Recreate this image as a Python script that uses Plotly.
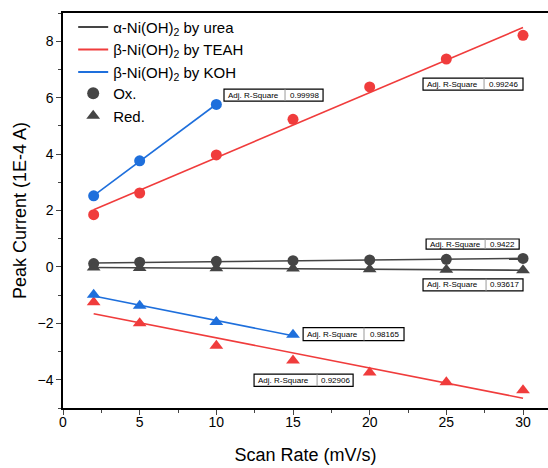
import numpy as np
import plotly.graph_objects as go

# ---- data ----
x_urea = [2, 5, 10, 15, 20, 25, 30]
ox_urea = [0.12, 0.17, 0.20, 0.22, 0.25, 0.27, 0.30]
red_urea = [-0.02, -0.04, -0.05, -0.06, -0.08, -0.10, -0.12]

x_teah = [2, 5, 10, 15, 20, 25, 30]
ox_teah = [1.85, 2.62, 3.97, 5.23, 6.38, 7.37, 8.21]
red_teah = [-1.25, -2.00, -2.79, -3.32, -3.74, -4.09, -4.37]

x_koh_ox = [2, 5, 10]
ox_koh = [2.52, 3.76, 5.76]
x_koh_red = [2, 5, 10, 15]
red_koh = [-0.99, -1.38, -1.95, -2.40]

r2_labels = ["0.99998", "0.99246", "0.9422", "0.93617", "0.98165", "0.92906"]

GRAY = "#454545"
RED = "#f03c3c"
BLUE = "#1e6fdc"

series_names = ["α-Ni(OH)<sub>2</sub> by urea", "β-Ni(OH)<sub>2</sub> by TEAH",
                "β-Ni(OH)<sub>2</sub> by KOH"]

fig = go.Figure()

def add_series(xs, ys, color, symbol):
    xs = np.array(xs, float); ys = np.array(ys, float)
    k, b = np.polyfit(xs, ys, 1)
    xl = np.array([xs.min(), xs.max()])
    fig.add_trace(go.Scatter(x=xl, y=k * xl + b, mode="lines",
                             line=dict(color=color, width=1.6), showlegend=False))
    fig.add_trace(go.Scatter(x=xs, y=ys, mode="markers",
                             marker=dict(color=color, size=11 if symbol == "circle" else 12,
                                         symbol=symbol, line=dict(width=0)),
                             showlegend=False))

add_series(x_urea, ox_urea, GRAY, "circle")
add_series(x_urea, red_urea, GRAY, "triangle-up")
add_series(x_teah, ox_teah, RED, "circle")
add_series(x_teah, red_teah, RED, "triangle-up")
add_series(x_koh_ox, ox_koh, BLUE, "circle")
add_series(x_koh_red, red_koh, BLUE, "triangle-up")

# legend-only entries
for name, c in zip(series_names, [GRAY, RED, BLUE]):
    fig.add_trace(go.Scatter(x=[None], y=[None], mode="lines", name=name,
                             line=dict(color=c, width=2), legend="legend"))
fig.add_trace(go.Scatter(x=[None], y=[None], mode="markers", name="Ox.",
                         marker=dict(color=GRAY, size=12, symbol="circle"), legend="legend2"))
fig.add_trace(go.Scatter(x=[None], y=[None], mode="markers", name="Red.",
                         marker=dict(color=GRAY, size=12, symbol="triangle-up"), legend="legend2"))

# R-square boxes: (x0, x_div, x1, y_top, y_bottom) in data coords
boxes = [
    (10.50, 14.48, 16.96, 6.30, 5.88),
    (23.48, 27.46, 30.00, 6.69, 6.27),
    (23.68, 27.53, 29.75, 0.99, 0.63),
    (23.48, 27.59, 30.00, -0.42, -0.85),
    (15.66, 19.63, 22.24, -2.15, -2.61),
    (12.46, 16.57, 18.92, -3.80, -4.23),
]
shapes = []
annotations = []
for (x0, xd, x1, yt, yb), lab in zip(boxes, r2_labels):
    shapes.append(dict(type="rect", xref="x", yref="y", x0=x0, x1=x1, y0=yb, y1=yt,
                       line=dict(color="black", width=1.2), fillcolor="white", layer="above"))
    shapes.append(dict(type="line", xref="x", yref="y", x0=xd, x1=xd, y0=yb, y1=yt,
                       line=dict(color="#999999", width=1), layer="above"))
    annotations.append(dict(x=x0 + 0.15, y=(yt + yb) / 2, xref="x", yref="y",
                            text="Adj. R-Square", showarrow=False, xanchor="left",
                            yanchor="middle", font=dict(size=8, color="black")))
    annotations.append(dict(x=(xd + x1) / 2, y=(yt + yb) / 2, xref="x", yref="y",
                            text=lab, showarrow=False, xanchor="center",
                            yanchor="middle", font=dict(size=8, color="black")))

fig.update_layout(
    width=548, height=468,
    margin=dict(l=63, r=0, t=13, b=60),
    paper_bgcolor="white", plot_bgcolor="white",
    font=dict(family="Arial, Liberation Sans, sans-serif", color="black"),
    showlegend=True,
    legend=dict(x=0.021, y=1.006, xanchor="left", yanchor="top",
                bgcolor="rgba(0,0,0,0)", font=dict(size=15), tracegroupgap=0),
    legend2=dict(x=0.021, y=0.838, xanchor="left", yanchor="top",
                 bgcolor="rgba(0,0,0,0)", font=dict(size=15), tracegroupgap=0),
    shapes=shapes, annotations=annotations,
)
fig.update_xaxes(range=[0, 31.63], showline=True, linecolor="black", linewidth=1.5,
                 mirror=True, ticks="outside", ticklen=5, tickwidth=1.2,
                 tickvals=[0, 5, 10, 15, 20, 25, 30], showgrid=False, zeroline=False,
                 tickfont=dict(size=14), ticklabelstandoff=-5,
                 minor=dict(ticks="outside", ticklen=3, dtick=2.5, tick0=0, showgrid=False),
                 title=dict(text="Scan Rate (mV/s)", font=dict(size=18), standoff=20))
fig.update_yaxes(range=[-5, 9], showline=True, linecolor="black", linewidth=1.5,
                 mirror=False, ticks="outside", ticklen=5, tickwidth=1.2,
                 tickvals=[-4, -2, 0, 2, 4, 6, 8], showgrid=False, zeroline=False,
                 tickfont=dict(size=14),
                 minor=dict(ticks="outside", ticklen=3, dtick=1, tick0=0, showgrid=False),
                 title=dict(text="Peak Current (1E-4 A)", font=dict(size=18), standoff=6))

fig.write_html("out.html")
